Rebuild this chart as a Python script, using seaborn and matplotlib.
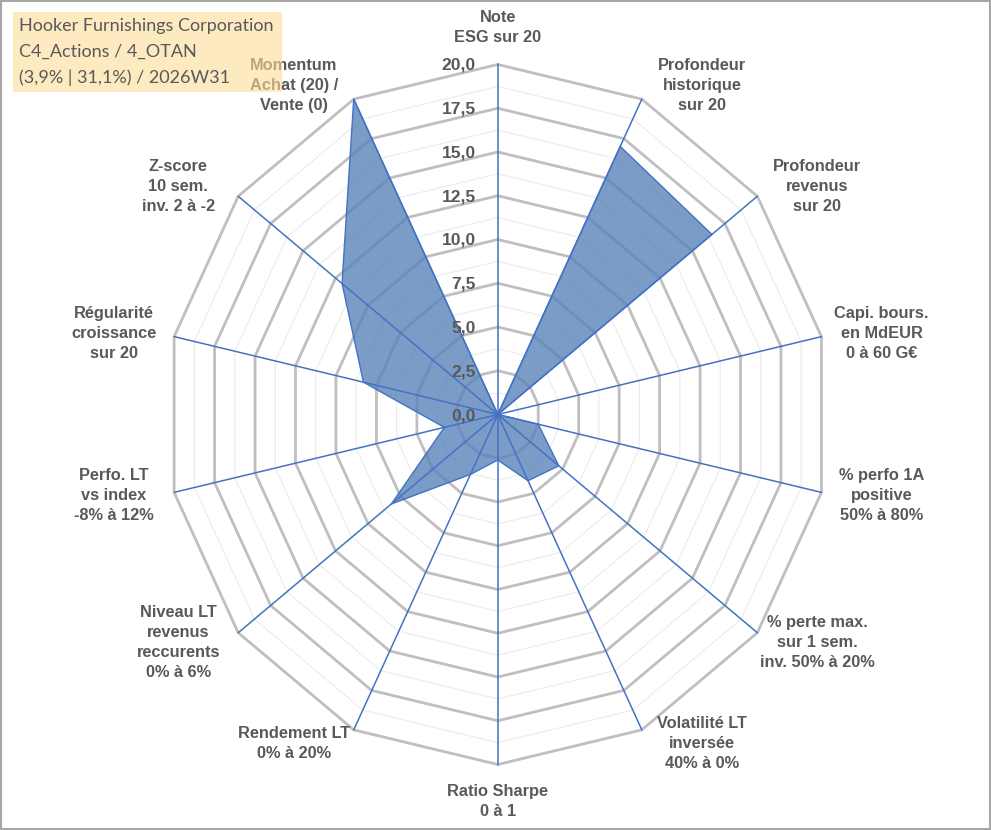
import numpy as np
import pandas as pd
import matplotlib.pyplot as plt
from matplotlib.patches import Rectangle
import seaborn as sns


# Radar axes (clockwise from the top) and the company's scores out of 20
categories = [
    "Note\nESG sur 20",
    "Profondeur\nhistorique\nsur 20",
    "Profondeur\nrevenus\nsur 20",
    "Capi. bours.\nen MdEUR\n0 à 60 G€",
    "% perfo 1A\npositive\n50% à 80%",
    "% perte max.\nsur 1 sem.\ninv. 50% à 20%",
    "Volatilité LT\ninversée\n40% à 0%",
    "Ratio Sharpe\n0 à 1",
    "Rendement LT\n0% à 20%",
    "Niveau LT\nrevenus\nreccurents\n0% à 6%",
    "Perfo. LT\nvs index\n-8% à 12%",
    "Régularité\ncroissance\nsur 20",
    "Z-score\n10 sem.\ninv. 2 à -2",
    "Momentum\nAchat (20) /\nVente (0)",
]
scores = [0, 17, 16.5, 0, 2.5, 4.7, 4.2, 2.6, 3.8, 8.2, 3.3, 8.3, 12, 20]

ticks = [0, 2.5, 5, 7.5, 10, 12.5, 15, 17.5, 20]
tick_labels = ["0,0", "2,5", "5,0", "7,5", "10,0", "12,5", "15,0", "17,5", "20,0"]

title_lines = [
    "Hooker Furnishings Corporation",
    "C4_Actions / 4_OTAN",
    "(3,9% | 31,1%) / 2026W31",
]

sns.set_theme(style="white")
plt.rcParams['font.family'] = ['Liberation Sans', 'DejaVu Sans']

BLUE = '#4472c4'
TEXT = '#595959'
PX = 0.72  # pixels -> points at dpi 100

n = len(categories)
angles = np.linspace(0, 2 * np.pi, n, endpoint=False)
ring_angles = np.append(angles, angles[0])
df = pd.DataFrame({'angle': ring_angles, 'score': scores + scores[:1]})

fig = plt.figure(figsize=(9.91, 8.30), dpi=100)
ax = fig.add_axes([0.1673, 0.0789, 0.6700, 0.8434], projection='polar')
ax.set_theta_zero_location('N')
ax.set_theta_direction(-1)
ax.set_ylim(0, 20)
ax.set_aspect('auto')
ax.axis('off')

# polygon gridlines: faint minor rings, grey major rings
for r in np.arange(1.25, 20, 2.5):
    ax.plot(ring_angles, [r] * (n + 1), color='#ebebeb', lw=0.8, zorder=1)
for r in ticks[1:]:
    ax.plot(ring_angles, [r] * (n + 1), color='#bfbfbf', lw=2.0, zorder=2,
            clip_on=False)

# filled series
ax.fill(df['angle'], df['score'], color='#5983ba', alpha=0.8, lw=0, zorder=3)
sns.lineplot(data=df, x='angle', y='score', sort=False, estimator=None,
             color=BLUE, lw=1, ax=ax, zorder=4)

# spokes
for a in angles:
    ax.plot([a, a], [0, 20], color=BLUE, lw=1.1, zorder=5, clip_on=False)

# value labels along the top spoke
for t, lab in zip(ticks, tick_labels):
    ax.annotate(lab, xy=(0, t), xytext=(-22 * PX, -1 * PX), textcoords='offset points',
                ha='right', va='center', fontsize=12.6, fontweight='bold',
                color=TEXT, zorder=6, annotation_clip=False)

# category labels around the outside
for a, lab in zip(angles, categories):
    s, c = np.sin(a), np.cos(a)
    if abs(s) < 0.1:
        dx, dy = 0, 37 * c
    else:
        dx, dy = 60 * np.sign(s), 15 * c
    ax.annotate(lab, xy=(a, 20), xytext=(dx * PX, dy * PX),
                textcoords='offset points', ha='center', va='center',
                multialignment='center', linespacing=1.42,
                fontsize=11.8, fontweight='bold', color=TEXT,
                annotation_clip=False)

# title box (semi-transparent, sits over the Momentum label)
W, H = 991, 830
fig.patches.append(Rectangle((12.7 / W, 1 - 91.7 / H), 269 / W, 80 / H,
                             transform=fig.transFigure, facecolor='#fcdc96',
                             edgecolor='none', alpha=0.6, zorder=10))
for i, line in enumerate(title_lines):
    fig.text(19 / W, 1 - (26 + 26 * i) / H, line, ha='left', va='center',
             fontsize=13, family=['Lato', 'DejaVu Sans'], color=TEXT, zorder=11)

# outer frame
fig.patches.append(Rectangle((0.001, 0.001), 0.998, 0.998, transform=fig.transFigure,
                             fill=False, edgecolor='#a6a6a6', lw=1.5, zorder=12))

fig.savefig('out.png', dpi=100)
print("Saved out.png")
